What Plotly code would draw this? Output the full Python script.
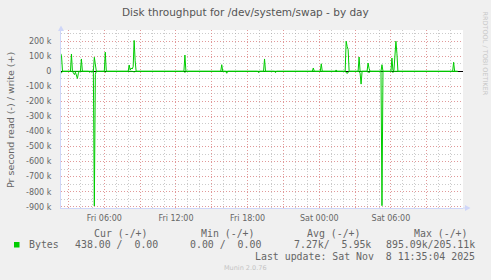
import plotly.graph_objects as go

# ---------------- data ----------------
write_times = [
    "2025-11-07 02:20", "2025-11-07 02:25", "2025-11-07 02:30",
    "2025-11-07 03:10", "2025-11-07 03:15", "2025-11-07 03:20",
    "2025-11-07 04:00", "2025-11-07 04:05", "2025-11-07 04:10",
    "2025-11-07 05:05", "2025-11-07 05:10", "2025-11-07 05:15", "2025-11-07 05:20",
    "2025-11-07 06:00", "2025-11-07 06:05", "2025-11-07 06:10",
    "2025-11-07 06:30", "2025-11-07 06:35", "2025-11-07 06:40",
    "2025-11-07 08:00", "2025-11-07 08:05", "2025-11-07 08:10", "2025-11-07 08:15",
    "2025-11-07 08:20", "2025-11-07 08:25", "2025-11-07 08:30", "2025-11-07 08:35",
    "2025-11-07 08:40",
    "2025-11-07 12:40", "2025-11-07 12:45", "2025-11-07 12:50",
    "2025-11-07 15:45", "2025-11-07 15:50", "2025-11-07 15:55",
    "2025-11-07 19:20", "2025-11-07 19:25", "2025-11-07 19:30",
    "2025-11-07 23:25", "2025-11-07 23:30", "2025-11-07 23:35",
    "2025-11-08 00:05", "2025-11-08 00:10", "2025-11-08 00:15",
    "2025-11-08 01:20", "2025-11-08 01:25", "2025-11-08 01:30",
    "2025-11-08 02:10", "2025-11-08 02:15", "2025-11-08 02:20", "2025-11-08 02:25",
    "2025-11-08 02:30",
    "2025-11-08 03:15", "2025-11-08 03:20", "2025-11-08 03:25",
    "2025-11-08 04:00", "2025-11-08 04:05", "2025-11-08 04:10", "2025-11-08 04:15",
    "2025-11-08 05:10", "2025-11-08 05:15", "2025-11-08 05:20",
    "2025-11-08 06:00", "2025-11-08 06:05", "2025-11-08 06:10", "2025-11-08 06:15",
    "2025-11-08 06:20", "2025-11-08 06:25", "2025-11-08 06:30", "2025-11-08 06:35",
    "2025-11-08 11:10", "2025-11-08 11:15", "2025-11-08 11:20", "2025-11-08 11:35",
]
write_values = [
    120000, 105000, 0,
    0, 115000, 0,
    0, 82000, 0,
    0, 93000, 35000, 0,
    0, 127000, 0,
    0, 5000, 0,
    0, 42000, 8000, 22000,
    15000, 30000, 205110, 70000,
    0,
    0, 108000, 0,
    0, 44000, 0,
    0, 82000, 0,
    0, 22000, 0,
    0, 50000, 0,
    0, 9000, 0,
    0, 200000, 165000, 145000,
    0,
    0, 95000, 0,
    0, 55000, 20000, 0,
    0, 44000, 0,
    0, 88000, 5000, 5000,
    100000, 200000, 120000, 0,
    0, 60000, 0, 0,
]

read_times = [
    "2025-11-07 02:20", "2025-11-07 02:25", "2025-11-07 02:30",
    "2025-11-07 03:20", "2025-11-07 03:25", "2025-11-07 03:30", "2025-11-07 03:35",
    "2025-11-07 03:40", "2025-11-07 03:45", "2025-11-07 03:50", "2025-11-07 03:55",
    "2025-11-07 04:40", "2025-11-07 04:45", "2025-11-07 04:50", "2025-11-07 04:55",
    "2025-11-07 05:00", "2025-11-07 05:05", "2025-11-07 05:10", "2025-11-07 05:15",
    "2025-11-07 05:20",
    "2025-11-07 06:00", "2025-11-07 06:05", "2025-11-07 06:10",
    "2025-11-07 08:20", "2025-11-07 08:25", "2025-11-07 08:30", "2025-11-07 08:35",
    "2025-11-07 08:40",
    "2025-11-07 12:40", "2025-11-07 12:45", "2025-11-07 12:50",
    "2025-11-07 16:10", "2025-11-07 16:15", "2025-11-07 16:20",
    "2025-11-07 18:50", "2025-11-07 18:55", "2025-11-07 19:00",
    "2025-11-07 20:15", "2025-11-07 20:20", "2025-11-07 20:25",
    "2025-11-08 02:10", "2025-11-08 02:15", "2025-11-08 02:20", "2025-11-08 02:25",
    "2025-11-08 02:30", "2025-11-08 02:35",
    "2025-11-08 03:20", "2025-11-08 03:25", "2025-11-08 03:30", "2025-11-08 03:35",
    "2025-11-08 04:05", "2025-11-08 04:10", "2025-11-08 04:15",
    "2025-11-08 05:10", "2025-11-08 05:15", "2025-11-08 05:20",
    "2025-11-08 06:05", "2025-11-08 06:10", "2025-11-08 06:15",
    "2025-11-08 06:35", "2025-11-08 06:40", "2025-11-08 06:45", "2025-11-08 06:50",
    "2025-11-08 06:55",
    "2025-11-08 11:30", "2025-11-08 11:35",
]
read_values = [
    -12000, -10000, 0,
    0, -12000, -22000, -6000,
    -30000, -48000, -12000, 0,
    0, -6000, -2000, -5000,
    0, 0, -895090, -20000,
    0,
    0, -6000, 0,
    0, -3000, -4000, -2000,
    0,
    0, -8000, 0,
    0, -13000, 0,
    0, -9000, 0,
    0, -9000, 0,
    0, -5000, -15000, -5000,
    -4000, 0,
    0, -12000, -85000, 0,
    0, -10000, 0,
    0, -893000, 0,
    0, -8000, 0,
    0, -5000, -4000, -5000,
    0,
    0, -438,
]

y_tick_vals = [200000, 100000, 0, -100000, -200000, -300000, -400000,
               -500000, -600000, -700000, -800000, -900000]
y_tick_text = ["200 k", "100 k", "0", "-100 k", "-200 k", "-300 k", "-400 k",
               "-500 k", "-600 k", "-700 k", "-800 k", "-900 k"]

x_tick_vals = ["2025-11-07 03:00", "2025-11-07 06:00", "2025-11-07 09:00",
               "2025-11-07 12:00", "2025-11-07 15:00", "2025-11-07 18:00",
               "2025-11-07 21:00", "2025-11-08 00:00", "2025-11-08 03:00",
               "2025-11-08 06:00", "2025-11-08 09:00", "2025-11-08 12:00"]
x_tick_text = ["", "Fri 06:00", "", "Fri 12:00", "", "Fri 18:00",
               "", "Sat 00:00", "", "Sat 06:00", "", ""]

x_range = ["2025-11-07 02:22:30", "2025-11-08 12:02:00"]
y_range = [-908300, 274400]

title_text = "Disk throughput for /dev/system/swap - by day"
y_title = "Pr second read (-) / write (+)"
series_name = "Bytes"
col_headers = ["Cur (-/+)", "Min (-/+)", "Avg (-/+)", "Max (-/+)"]
col_values = ["438.00 /  0.00", "0.00 /  0.00", "7.27k/  5.95k", "895.09k/205.11k"]
last_update = "Last update: Sat Nov  8 11:35:04 2025"
munin_ver = "Munin 2.0.76"
rrd_credit = "RRDTOOL / TOBI OETIKER"

# ---------------- layout helpers ----------------
W, H = 491, 280
L, R, T, B = 61, 463, 30, 208
GREEN = "#00CC00"
AXIS = "#CFD6F8"
FONT = "#666666"
MONO = "DejaVu Sans Mono"
SANS = "DejaVu Sans"


def px(x):
    return (x - L) / (R - L)


def py(y):
    return (B - y) / (B - T)


def nb(s):
    return s.replace(" ", "\u00a0")


fig = go.Figure()
fig.add_trace(go.Scatter(x=read_times, y=read_values, mode="lines",
                         line=dict(color=GREEN, width=1), hoverinfo="skip",
                         showlegend=False))
fig.add_trace(go.Scatter(x=write_times, y=write_values, mode="lines",
                         line=dict(color=GREEN, width=1), hoverinfo="skip",
                         showlegend=False))

grid_major = "rgba(240,120,120,0.6)"
grid_minor = "rgba(160,160,160,0.55)"
dot = "1px,2px"

fig.update_layout(
    width=W, height=H,
    margin=dict(l=L, r=W - R, t=T, b=H - B, pad=0),
    paper_bgcolor="#F0F0F0", plot_bgcolor="#FFFFFF",
    showlegend=False,
    xaxis=dict(
        type="date", range=x_range,
        tickmode="array", tickvals=x_tick_vals, ticktext=x_tick_text,
        showgrid=True, gridcolor=grid_major, griddash=dot, gridwidth=1,
        minor=dict(tickmode="linear", tick0="2025-11-07 00:00", dtick=3600000,
                   showgrid=True, gridcolor=grid_minor, griddash=dot, gridwidth=1,
                   ticks=""),
        ticks="", ticklabelstandoff=2,
        tickfont=dict(family=SANS, size=8, color=FONT),
        showline=True, linecolor=AXIS, linewidth=1,
        zeroline=False, fixedrange=True,
    ),
    yaxis=dict(
        range=y_range,
        tickmode="array", tickvals=y_tick_vals, ticktext=y_tick_text,
        showgrid=True, gridcolor=grid_major, griddash=dot, gridwidth=1,
        minor=dict(tickmode="linear", tick0=0, dtick=50000,
                   showgrid=True, gridcolor=grid_minor, griddash=dot, gridwidth=1,
                   ticks=""),
        ticks="", ticklabelstandoff=7,
        tickfont=dict(family=SANS, size=8, color=FONT),
        showline=True, linecolor=AXIS, linewidth=1,
        zeroline=True, zerolinecolor="#000000", zerolinewidth=1,
        fixedrange=True,
    ),
)

# axis arrows
fig.add_shape(type="path", xref="paper", yref="paper",
              path=f"M {px(58)} {py(31)} L {px(64)} {py(31)} L {px(61)} {py(25.5)} Z",
              fillcolor=AXIS, line=dict(width=0))
fig.add_shape(type="line", xref="paper", yref="paper",
              x0=px(463), x1=px(467), y0=py(208), y1=py(208),
              line=dict(color=AXIS, width=1))
fig.add_shape(type="path", xref="paper", yref="paper",
              path=f"M {px(465)} {py(205)} L {px(465)} {py(211)} L {px(470.5)} {py(208)} Z",
              fillcolor=AXIS, line=dict(width=0))

ann = []
ann.append(dict(text=title_text, x=px(245.5), y=py(12), xanchor="center", yanchor="middle",
                font=dict(family=SANS, size=10.5, color="#555555")))
ann.append(dict(text=y_title, x=px(10), y=py(120), textangle=-90,
                xanchor="center", yanchor="middle",
                font=dict(family=SANS, size=9.5, color=FONT)))
ann.append(dict(text=rrd_credit, x=px(484.5), y=py(53), textangle=90,
                xanchor="center", yanchor="middle",
                font=dict(family=SANS, size=6.5, color="#C8C8C8")))
ann.append(dict(text=munin_ver, x=px(245), y=py(268), xanchor="center", yanchor="middle",
                font=dict(family=SANS, size=6.5, color="#C4C4C4")))

header_right = [150, 257, 363, 470]
value_right = [160, 263, 373, 477]
for h, xr in zip(col_headers, header_right):
    ann.append(dict(text=nb(h), x=px(xr), y=py(233), xanchor="right", yanchor="middle",
                    font=dict(family=MONO, size=9.9, color=FONT)))
for v, xr in zip(col_values, value_right):
    ann.append(dict(text=nb(v), x=px(xr), y=py(244.5), xanchor="right", yanchor="middle",
                    font=dict(family=MONO, size=9.9, color=FONT)))
ann.append(dict(text=series_name, x=px(27), y=py(244.5), xanchor="left", yanchor="middle",
                font=dict(family=MONO, size=9.9, color=FONT)))
ann.append(dict(text=nb(last_update), x=px(477), y=py(256.5), xanchor="right", yanchor="middle",
                font=dict(family=MONO, size=9.9, color=FONT)))

for a in ann:
    a.update(xref="paper", yref="paper", showarrow=False)
fig.update_layout(annotations=ann)

# legend swatch
fig.add_shape(type="rect", xref="paper", yref="paper",
              x0=px(14), x1=px(19.5), y0=py(247.5), y1=py(242),
              fillcolor=GREEN, line=dict(width=0))

fig.write_html("out.html", config={"displayModeBar": False})
